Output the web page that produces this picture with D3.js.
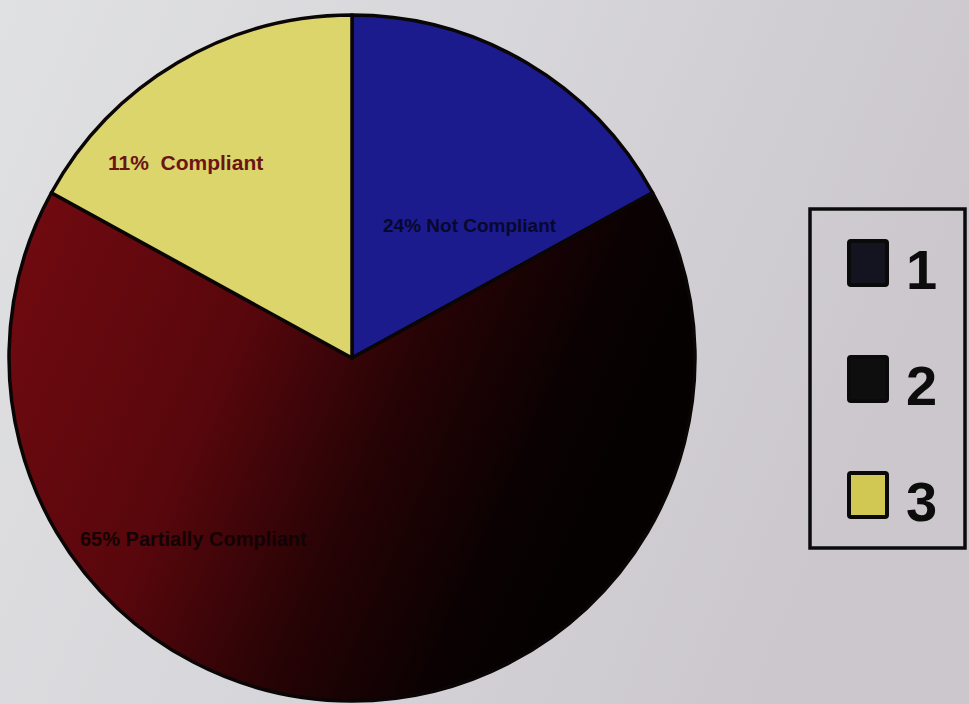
<!DOCTYPE html>
<html>
<head>
<meta charset="utf-8">
<script src="https://cdn.jsdelivr.net/npm/d3@7"></script>
<style>
html,body{margin:0;padding:0;overflow:hidden;}
svg{display:block;}
</style>
</head>
<body>
<svg id="chart" width="969" height="704"></svg>
<script>
// Data (slice shares as they appear in the picture; text labels as printed)
const categories = ["Not Compliant", "Partially Compliant", "Compliant"];
const sliceValues = [17, 66, 17];
const sliceLabels = ["24% Not Compliant", "65% Partially Compliant", "11%  Compliant"];
const legendLabels = ["1", "2", "3"];

const W = 969, H = 704;
const svg = d3.select("#chart");
const defs = svg.append("defs");

// background paper
const bg = defs.append("linearGradient").attr("id", "bg").attr("x1", "0").attr("x2", "1").attr("y1", "0").attr("y2", "0.3");
bg.append("stop").attr("offset", "0").attr("stop-color", "#e0e1e3");
bg.append("stop").attr("offset", "0.5").attr("stop-color", "#d7d6da");
bg.append("stop").attr("offset", "1").attr("stop-color", "#cbc7cd");
svg.append("rect").attr("width", W).attr("height", H).attr("fill", "url(#bg)");

const cx = 352, cy = 358, R = 343;

// dark red slice shading (coordinates relative to pie centre)
const rg = defs.append("linearGradient").attr("id", "redshade").attr("gradientUnits", "userSpaceOnUse")
  .attr("x1", -330).attr("y1", -100).attr("x2", 260).attr("y2", 160);
rg.append("stop").attr("offset", "0").attr("stop-color", "#6e0a10");
rg.append("stop").attr("offset", "0.35").attr("stop-color", "#58070c");
rg.append("stop").attr("offset", "0.62").attr("stop-color", "#260305");
rg.append("stop").attr("offset", "0.85").attr("stop-color", "#0a0102");
rg.append("stop").attr("offset", "1").attr("stop-color", "#050101");

const colors = ["#1b1b8e", "url(#redshade)", "#dcd56c"];

const pie = d3.pie().sort(null).value(d => d)(sliceValues);
const arc = d3.arc().innerRadius(0).outerRadius(R);

const g = svg.append("g").attr("transform", `translate(${cx},${cy})`);
g.selectAll("path.slice").data(pie).enter().append("path")
  .attr("class", "slice")
  .attr("d", arc)
  .attr("fill", (d, i) => colors[i])
  .attr("stroke", "#0a0606")
  .attr("stroke-width", 3.5)
  .attr("stroke-linejoin", "round");

// slice labels
const labelPos = [[31, -126], [-272, 188], [-244, -188]];
const labelColors = ["#08082c", "#120304", "#6a1414"];
const labelSizes = [19, 20, 21];
g.selectAll("text.lbl").data(pie).enter().append("text")
  .attr("class", "lbl")
  .attr("x", (d, i) => labelPos[i][0])
  .attr("y", (d, i) => labelPos[i][1])
  .attr("font-family", "Liberation Sans, Arial, sans-serif")
  .attr("font-weight", "bold")
  .attr("font-size", (d, i) => labelSizes[i])
  .attr("fill", (d, i) => labelColors[i])
  .attr("xml:space", "preserve")
  .text((d, i) => sliceLabels[i]);

// legend
const lg = svg.append("g");
lg.append("rect").attr("x", 810).attr("y", 209).attr("width", 155).attr("height", 339)
  .attr("fill", "none").attr("stroke", "#0b0b0b").attr("stroke-width", 3.5);
const legendSwatch = ["#141420", "#0e0e0e", "#d0c853"];
const ly = d3.scalePoint().domain(legendLabels).range([263, 495]);
const items = lg.selectAll("g.item").data(legendLabels).enter().append("g").attr("class", "item")
  .attr("transform", d => `translate(0,${ly(d)})`);
items.append("rect").attr("x", 849).attr("y", -22).attr("width", 38).attr("height", 44)
  .attr("fill", (d, i) => legendSwatch[i]).attr("stroke", "#0a0a0a").attr("stroke-width", 4).attr("rx", 2);
items.append("text").attr("x", 906).attr("y", 26)
  .attr("font-family", "Liberation Sans, Arial, sans-serif")
  .attr("font-weight", "bold").attr("font-size", 56).attr("fill", "#0c0c0c")
  .text(d => d);
</script>
</body>
</html>
